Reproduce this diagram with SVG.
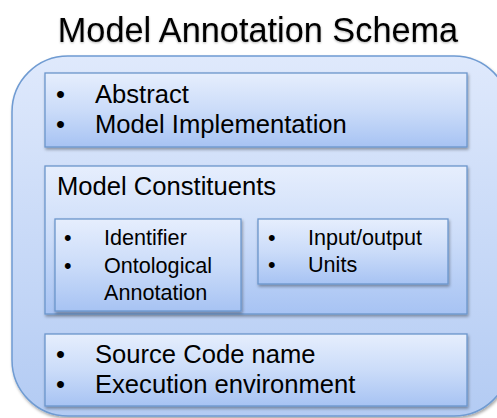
<svg xmlns="http://www.w3.org/2000/svg" width="497" height="418" viewBox="0 0 497 418">
<defs>
<linearGradient id="gOuter" x1="0" y1="0" x2="0" y2="1">
<stop offset="0" stop-color="#dfe9fc"/>
<stop offset="1" stop-color="#b3cbf3"/>
</linearGradient>
<linearGradient id="gBox" x1="0" y1="0" x2="0" y2="1">
<stop offset="0" stop-color="#e6eefd"/>
<stop offset="0.5" stop-color="#cbdcf9"/>
<stop offset="1" stop-color="#a7c3f3"/>
</linearGradient>
<filter id="sh" x="-10%" y="-10%" width="120%" height="130%">
<feDropShadow dx="1" dy="2" stdDeviation="1.5" flood-color="#000" flood-opacity="0.35"/>
</filter>
<filter id="tsh" x="-5%" y="-20%" width="110%" height="140%">
<feDropShadow dx="0" dy="1" stdDeviation="1" flood-color="#000" flood-opacity="0.3"/>
</filter>
</defs>
<style>
.box{fill:url(#gBox);stroke:#6b95cb;stroke-width:1.3;filter:url(#sh)}
.t{font-family:"Liberation Sans",Arial,sans-serif;fill:#000}
.l{font-size:25.6px}
.s{font-size:21.6px}
</style>
<rect width="497" height="418" fill="#fff"/>
<text class="t" x="258" y="42" font-size="34.3" text-anchor="middle" filter="url(#tsh)">Model Annotation Schema</text>
<g id="schema">
<rect x="12" y="56" width="498" height="360" rx="56" fill="url(#gOuter)" stroke="#6f9bd2" stroke-width="1.5" filter="url(#sh)"/>
</g>
<g id="box-abstract">
<rect class="box" x="45" y="73" width="422" height="74"/>
<text class="t l" x="56" y="103">•</text>
<text class="t l" x="95" y="103">Abstract</text>
<text class="t l" x="56" y="133">•</text>
<text class="t l" x="95" y="133">Model Implementation</text>
</g>
<g id="box-constituents">
<rect class="box" x="45" y="166" width="422" height="148"/>
<text class="t l" x="57" y="195">Model Constituents</text>
</g>
<g id="box-identifier">
<rect class="box" x="55" y="219" width="186" height="92"/>
<text class="t s" x="64" y="245">•</text>
<text class="t s" x="104" y="245">Identifier</text>
<text class="t s" x="64" y="273">•</text>
<text class="t s" x="104" y="273">Ontological</text>
<text class="t s" x="104" y="300">Annotation</text>
</g>
<g id="box-io">
<rect class="box" x="258" y="219" width="190" height="65"/>
<text class="t s" x="268" y="245">•</text>
<text class="t s" x="308" y="245">Input/output</text>
<text class="t s" x="268" y="272">•</text>
<text class="t s" x="308" y="272">Units</text>
</g>
<g id="box-source">
<rect class="box" x="45" y="334" width="422" height="72"/>
<text class="t l" x="56" y="363">•</text>
<text class="t l" x="95" y="363">Source Code name</text>
<text class="t l" x="56" y="393">•</text>
<text class="t l" x="95" y="393">Execution environment</text>
</g>
<g id="connectors"/>
</svg>
